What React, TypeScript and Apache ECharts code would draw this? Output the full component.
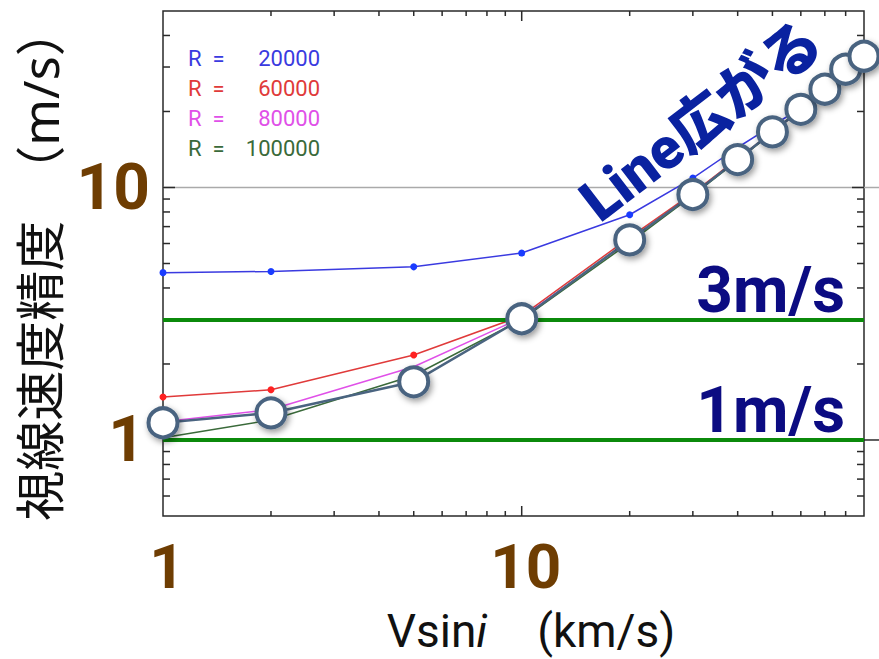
import React, { useEffect, useRef } from "react";
import * as echarts from "echarts";

// ---- data ----
const VSINI = [1, 2, 5, 10, 20, 30, 40, 50, 60, 70, 80, 90];
const R20000 = [4.6, 4.65, 4.85, 5.5, 7.8, 10.9, 14.4, 17.6, 20.6, 24.5, 29.4, 33.1];
const R60000 = [1.48, 1.58, 2.17, 3.1, 6.35, 9.5, 13.0, 16.6, 20.5, 24.4, 29.4, 33.1];
const R80000 = [1.18, 1.32, 1.95, 3.05, 6.15, 9.4, 12.9, 16.5, 20.4, 24.3, 29.3, 33.0];
const R100000 = [1.02, 1.2, 1.8, 3.0, 6.05, 9.3, 12.8, 16.5, 20.4, 24.3, 29.3, 33.0];
const HIGHLIGHT = [1.17, 1.28, 1.7, 3.02, 6.2, 9.38, 12.9, 16.6, 20.4, 24.5, 29.4, 33.1];
const RESOLUTIONS = ["20000", "60000", "80000", "100000"];
const THRESHOLDS = [3, 1];
const REFERENCE_LEVEL = [10];
const X_RANGE = [1, 90];
const Y_RANGE = [0.5, 50];
const X_TICKS = [2, 3, 4, 5, 6, 7, 8, 9, 10, 20, 30, 40, 50, 60, 70, 80];
const Y_TICKS = [0.6, 0.7, 0.8, 0.9, 1, 2, 3, 4, 5, 6, 7, 8, 9, 10, 20, 30, 40];
const X_TICK_LABELS = ["1", "10"];
const Y_TICK_LABELS = ["1", "10"];
const X_TITLE_MAIN = "Vsin";
const X_TITLE_ITALIC = "i";
const X_TITLE_UNIT = "(km/s)";
const Y_TITLE_MAIN = "視線速度精度";
const Y_TITLE_UNIT = "（m/s）";
const ANNOTATION = "Line広がる";

const COLORS = ["#3a3ae0", "#e03a3a", "#e050e8", "#3a6a3a"];
const DOT_COLORS = ["#1a3cff", "#ff2222", "#e050e8", "#3a6a3a"];
const STEEL = "#4a6480";
const AXIS_COLOR = "#2a2a2a";
const BROWN = "#6e3d02";
const NAVY = "#0c0c82";

const isDecade = (v: number) => {
  const l = Math.log10(v);
  return Math.abs(l - Math.round(l)) < 1e-6;
};
const decadeLabel = (v: number) =>
  isDecade(v) ? String(Math.round(Math.pow(10, Math.round(Math.log10(v))))) : "";

export default function App() {
  const ref = useRef<HTMLDivElement>(null);

  useEffect(() => {
    if (!ref.current) return;
    const chart = echarts.init(ref.current, undefined, { renderer: "svg" });
    const all = [R20000, R60000, R80000, R100000];

    const colored = all.map((vals, i) => ({
      type: "line",
      name: RESOLUTIONS[i],
      data: VSINI.map((x, j) => [x, vals[j]]),
      z: 2,
      symbol: i < 2 ? "circle" : "none",
      symbolSize: 7,
      itemStyle: { color: DOT_COLORS[i] },
      lineStyle: { color: COLORS[i], width: 1.5 },
      silent: true,
    }));

    const titleFont = "'Noto Sans', 'Noto Sans CJK JP'";

    const option: any = {
      animation: false,
      grid: {
        left: 163,
        right: 15,
        top: 11,
        bottom: 143,
        show: true,
        borderColor: AXIS_COLOR,
        borderWidth: 1.5,
        backgroundColor: "transparent",
      },
      legend: {
        orient: "vertical",
        left: 178,
        top: 42,
        itemWidth: 0,
        itemHeight: 20,
        itemGap: 8,
        selectedMode: false,
        icon: "rect",
        data: RESOLUTIONS.map((r, i) => ({ name: r, textStyle: { color: COLORS[i] } })),
        formatter: (name: string) => `{r|R  =}{v|${name}}`,
        textStyle: {
          fontFamily: "Roboto",
          fontSize: 22,
          lineHeight: 20,
          rich: {
            r: { fontFamily: "Roboto", fontSize: 22, lineHeight: 20, width: 56 },
            v: { fontFamily: "Roboto", fontSize: 22, lineHeight: 20, width: 76, align: "right" },
          },
        },
      },
      xAxis: {
        type: "log",
        logBase: 10,
        min: X_RANGE[0],
        max: X_RANGE[1],
        axisLine: { show: false },
        axisTick: { show: false },
        splitLine: { show: false },
        axisLabel: {
          margin: 25,
          formatter: (v: number) => {
            const s = decadeLabel(v);
            return X_TICK_LABELS.includes(s) ? `{t|${s}}` : "";
          },
          rich: {
            t: {
              fontFamily: "Roboto",
              fontWeight: "bold",
              fontSize: 62,
              lineHeight: 50,
              color: BROWN,
              padding: [0, 0, 0, 8],
            },
          },
        },
        name: `{a|${X_TITLE_MAIN}}{b|${X_TITLE_ITALIC}}{u|${X_TITLE_UNIT}}`,
        nameLocation: "middle",
        nameGap: 95,
        nameTextStyle: {
          padding: [0, 0, 0, 35],
          lineHeight: 40,
          rich: {
            a: { fontFamily: "Roboto", fontSize: 46, lineHeight: 40, color: "#111" },
            b: { fontFamily: "Roboto", fontSize: 46, lineHeight: 40, color: "#111", fontStyle: "italic" },
            u: { fontFamily: "Roboto", fontSize: 46, lineHeight: 40, color: "#111", padding: [0, 0, 0, 50] },
          },
        },
      },
      yAxis: {
        type: "log",
        logBase: 10,
        min: Y_RANGE[0],
        max: Y_RANGE[1],
        axisLine: { show: false },
        axisTick: { show: false },
        splitLine: { show: false },
        axisLabel: {
          margin: 13,
          formatter: (v: number) => {
            const s = decadeLabel(v);
            if (!Y_TICK_LABELS.includes(s)) return "";
            return s === "1" ? `{one|${s}}` : `{ten|${s}}`;
          },
          rich: {
            one: { fontFamily: "Roboto", fontWeight: "bold", fontSize: 64, lineHeight: 64, color: BROWN, padding: [0, 5, 0, 0] },
            ten: { fontFamily: "Roboto", fontWeight: "bold", fontSize: 64, lineHeight: 64, color: BROWN },
          },
        },
        name: `{a|${Y_TITLE_MAIN}}{u|${Y_TITLE_UNIT}}`,
        nameLocation: "middle",
        nameRotate: 90,
        nameGap: 98,
        nameTextStyle: {
          lineHeight: 50,
          padding: [0, 0, 0, 0],
          rich: {
            a: { fontFamily: titleFont, fontSize: 50, lineHeight: 50, color: "#111" },
            u: { fontFamily: titleFont, fontSize: 50, lineHeight: 50, color: "#111", padding: [0, 0, 0, 25] },
          },
        },
      },
      graphic: [
        {
          type: "text",
          x: 701,
          y: 121,
          rotation: 0.655,
          z: 100,
          style: {
            text: ANNOTATION,
            fill: "#0a22a0",
            font: "900 58px Roboto, 'Noto Sans CJK JP'",
            textAlign: "center",
            textVerticalAlign: "middle",
            align: "center",
            verticalAlign: "middle",
          },
        },
      ],
      series: [
        {
          type: "custom",
          name: "reference",
          coordinateSystem: "cartesian2d",
          silent: true,
          z: 1,
          data: REFERENCE_LEVEL.map((v) => [X_RANGE[0], v]),
          renderItem: (params: any, api: any) => {
            const p = api.coord([X_RANGE[0], api.value(1)]);
            return {
              type: "line",
              shape: { x1: p[0], y1: p[1], x2: api.getWidth(), y2: p[1] },
              style: { stroke: "#aaaaaa", lineWidth: 1.5 },
            };
          },
        },
        ...colored,
        {
          type: "line",
          name: "thresholds",
          data: [],
          z: 3,
          silent: true,
          markLine: {
            silent: true,
            symbol: ["none", "none"],
            lineStyle: { color: "#0b8a0b", width: 4, type: "solid" },
            label: {
              show: true,
              position: "insideEndTop",
              distance: 4,
              padding: [0, 15, 0, 0],
              color: NAVY,
              fontFamily: "Roboto",
              fontWeight: "bold",
              fontSize: 64,
              lineHeight: 50,
              formatter: (p: any) => `${p.value}m/s`,
            },
            emphasis: { disabled: true },
            data: THRESHOLDS.map((v) => ({ yAxis: v })),
          },
        },
        {
          type: "custom",
          name: "xticks",
          coordinateSystem: "cartesian2d",
          silent: true,
          z: 4,
          data: X_TICKS.map((v) => [v, Y_RANGE[0]]),
          renderItem: (params: any, api: any) => {
            const v = api.value(0);
            const b = api.coord([v, Y_RANGE[0]]);
            const t = api.coord([v, Y_RANGE[1]]);
            const len = isDecade(v) ? 10 : 5;
            const style = { stroke: AXIS_COLOR, lineWidth: 1.5 };
            return {
              type: "group",
              children: [
                { type: "line", shape: { x1: b[0], y1: b[1], x2: b[0], y2: b[1] - len }, style },
                { type: "line", shape: { x1: t[0], y1: t[1], x2: t[0], y2: t[1] + len }, style },
              ],
            };
          },
        },
        {
          type: "custom",
          name: "yticks",
          coordinateSystem: "cartesian2d",
          silent: true,
          z: 4,
          data: Y_TICKS.map((v) => [X_RANGE[0], v]),
          renderItem: (params: any, api: any) => {
            const v = api.value(1);
            const l = api.coord([X_RANGE[0], v]);
            const r = api.coord([X_RANGE[1], v]);
            const major = isDecade(v);
            const len = major ? 12 : 7;
            const style = { stroke: AXIS_COLOR, lineWidth: 1.5 };
            const children: any[] = [
              { type: "line", shape: { x1: l[0], y1: l[1], x2: l[0] + len, y2: l[1] }, style },
              { type: "line", shape: { x1: r[0], y1: r[1], x2: r[0] - len, y2: r[1] }, style },
            ];
            if (major && !REFERENCE_LEVEL.some((lv) => Math.abs(lv - v) < 1e-9)) {
              children.push({ type: "line", shape: { x1: r[0], y1: r[1], x2: api.getWidth(), y2: r[1] }, style });
            }
            return { type: "group", children };
          },
        },
        {
          type: "line",
          name: "highlight",
          data: VSINI.map((x, j) => [x, HIGHLIGHT[j]]),
          z: 10,
          silent: true,
          symbol: "circle",
          symbolSize: 29,
          lineStyle: { color: STEEL, width: 2.5 },
          itemStyle: {
            color: "#ffffff",
            borderColor: STEEL,
            borderWidth: 4,
            shadowBlur: 6,
            shadowColor: "rgba(0,0,0,0.4)",
            shadowOffsetX: 2,
            shadowOffsetY: 3,
          },
        },
      ],
    };

    chart.setOption(option);
    return () => chart.dispose();
  }, []);

  return (
    <div
      ref={ref}
      style={{ position: "fixed", left: 0, top: 0, width: 879, height: 659, background: "#fff" }}
    />
  );
}
